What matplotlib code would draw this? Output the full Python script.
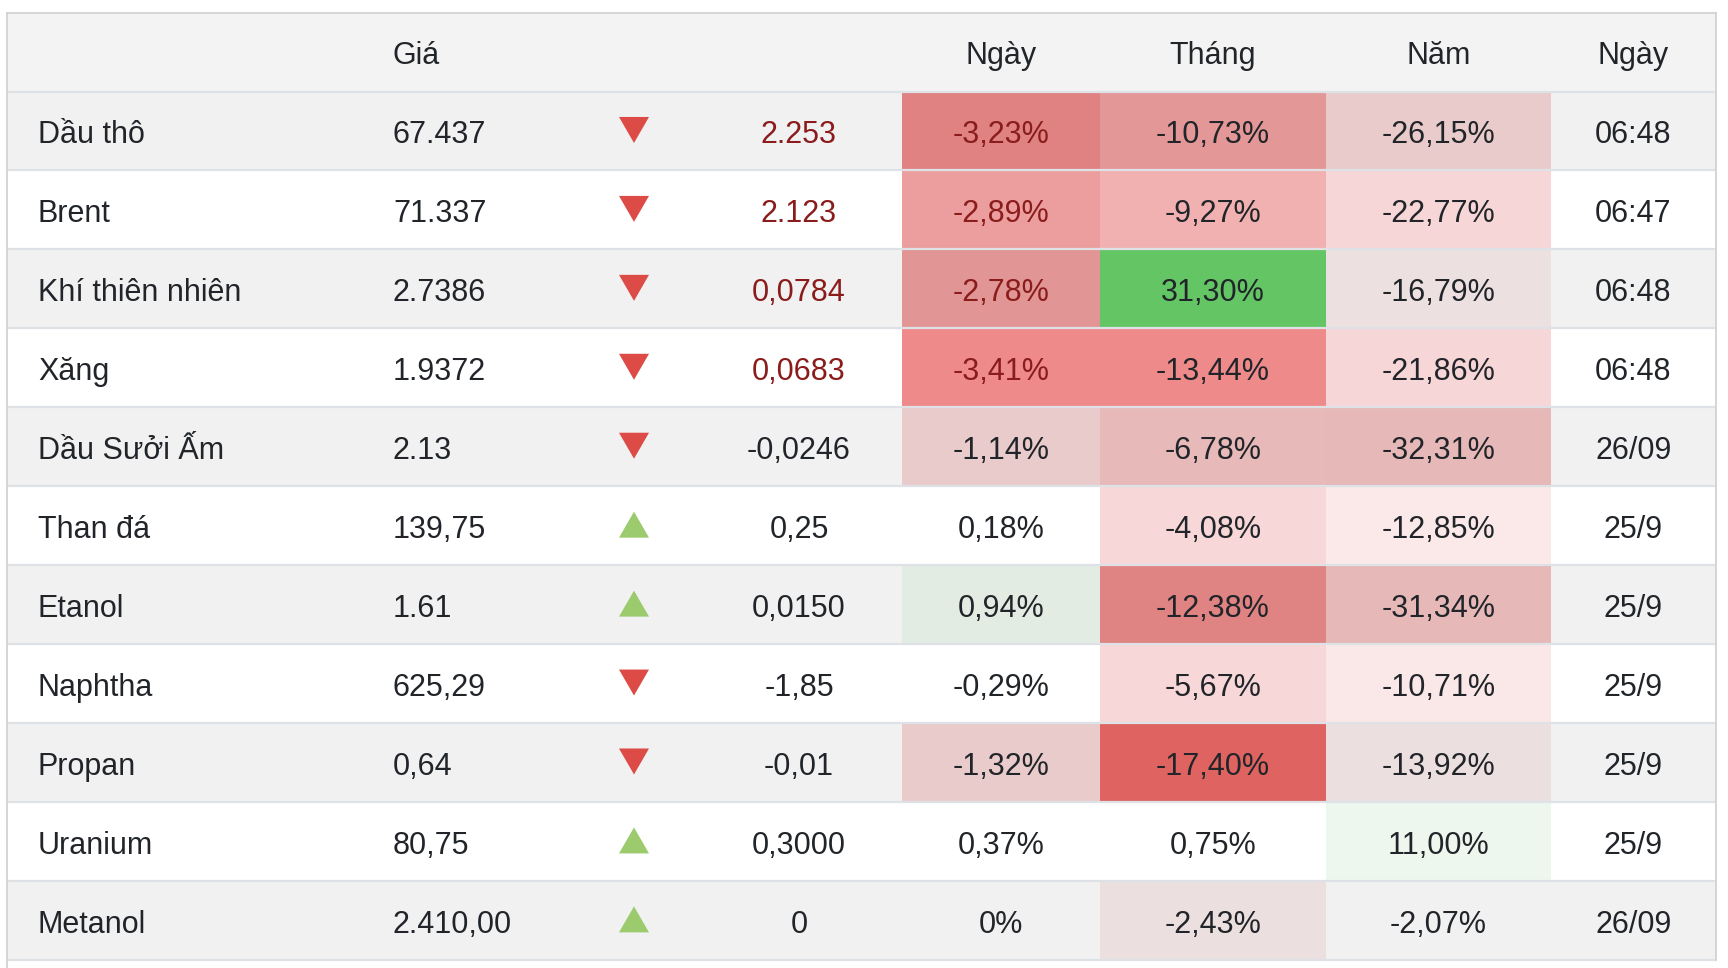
import matplotlib.pyplot as plt
from matplotlib.patches import Rectangle, Polygon

# --- table data ---
names = ["Dầu thô", "Brent", "Khí thiên nhiên", "Xăng", "Dầu Sưởi Ấm", "Than đá",
         "Etanol", "Naphtha", "Propan", "Uranium", "Metanol"]
prices = ["67.437", "71.337", "2.7386", "1.9372", "2.13", "139,75",
          "1.61", "625,29", "0,64", "80,75", "2.410,00"]
going_up = [False, False, False, False, False, True, True, False, False, True, True]
changes = ["2.253", "2.123", "0,0784", "0,0683", "-0,0246", "0,25",
           "0,0150", "-1,85", "-0,01", "0,3000", "0"]
day_pct = ["-3,23%", "-2,89%", "-2,78%", "-3,41%", "-1,14%", "0,18%",
           "0,94%", "-0,29%", "-1,32%", "0,37%", "0%"]
month_pct = ["-10,73%", "-9,27%", "31,30%", "-13,44%", "-6,78%", "-4,08%",
             "-12,38%", "-5,67%", "-17,40%", "0,75%", "-2,43%"]
year_pct = ["-26,15%", "-22,77%", "-16,79%", "-21,86%", "-32,31%", "-12,85%",
            "-31,34%", "-10,71%", "-13,92%", "11,00%", "-2,07%"]
times = ["06:48", "06:47", "06:48", "06:48", "26/09", "25/9",
         "25/9", "25/9", "25/9", "25/9", "26/09"]
red_text = [True, True, True, True, False, False, False, False, False, False, False]

# heatmap cell colours (None = plain row background)
day_colors = ["#e08282", "#ec9e9e", "#e19595", "#ef8a8a", "#eacbcc", None,
              "#e2ece3", None, "#eacbcc", None, None]
month_colors = ["#e49797", "#f1b1b1", "#64c564", "#ef8a8a", "#e7b9b9", "#f7d7d8",
                "#e08383", "#f7d7d8", "#df6461", None, "#ecdfdf"]
year_colors = ["#eacbcc", "#f7d6d7", "#ede0e0", "#f7d6d7", "#e6b8b8", "#fbe9e9",
               "#e6b8b8", "#fae8e8", "#ecdfdf", "#edf7ee", None]

col_headers = ["Ngày", "Tháng", "Năm", "Ngày"]

# --- layout (pixels) ---
W, H = 1728, 968
left, right, top = 7, 1716, 12.7
header_bottom = 91.5
row_h = 78.94
name_x = 38
price_x = 393
arrow_x = 634
change_x = 799
col_edges = [902, 1100, 1326, 1551, 1716]   # Ngày | Tháng | Năm | time
FS = 22
DARK = "#212529"
DARKRED = "#8a1c1c"

plt.rcParams['font.family'] = ['Liberation Sans', 'DejaVu Sans']

fig = plt.figure(figsize=(W / 100, H / 100), dpi=100)
ax = fig.add_axes([0, 0, 1, 1])
ax.set_xlim(0, W)
ax.set_ylim(H, 0)
ax.axis('off')

# header
ax.add_patch(Rectangle((left, top), right - left, header_bottom - top,
                       facecolor="#f3f3f3", edgecolor="none"))
hb = (top + header_bottom) / 2 + 11.5
ax.text(price_x, hb, "Giá", fontsize=FS, color=DARK, ha='left', va='baseline')
for i, lab in enumerate(col_headers):
    cx = (col_edges[i] + col_edges[i + 1]) / 2
    ax.text(cx, hb, lab, fontsize=FS, color=DARK, ha='center', va='baseline')

for r in range(len(names)):
    y0 = header_bottom + r * row_h
    yc = y0 + row_h / 2
    yb = yc + 12.5
    bg = "#f1f1f1" if r % 2 == 0 else "white"
    ax.add_patch(Rectangle((left, y0), right - left, row_h, facecolor=bg, edgecolor="none"))

    for ci, cols in enumerate([day_colors, month_colors, year_colors]):
        c = cols[r]
        if c is not None:
            ax.add_patch(Rectangle((col_edges[ci], y0), col_edges[ci + 1] - col_edges[ci], row_h,
                                   facecolor=c, edgecolor="none"))

    ax.text(name_x, yb, names[r], fontsize=FS, color=DARK, ha='left', va='baseline')
    ax.text(price_x, yb, prices[r], fontsize=FS, color=DARK, ha='left', va='baseline')

    # arrow
    tc = yc - 1
    if going_up[r]:
        tri = [(arrow_x - 15, tc + 13), (arrow_x + 15, tc + 13), (arrow_x, tc - 13)]
        ax.add_patch(Polygon(tri, closed=True, facecolor="#9bcb6c", edgecolor="none"))
    else:
        tri = [(arrow_x - 15, tc - 13), (arrow_x + 15, tc - 13), (arrow_x, tc + 13)]
        ax.add_patch(Polygon(tri, closed=True, facecolor="#dc4b45", edgecolor="none"))

    ax.text(change_x, yb, changes[r], fontsize=FS, color=DARKRED if red_text[r] else DARK,
            ha='center', va='baseline')
    vals = [day_pct[r], month_pct[r], year_pct[r], times[r]]
    for ci, v in enumerate(vals):
        cx = (col_edges[ci] + col_edges[ci + 1]) / 2
        col = DARKRED if (ci == 0 and red_text[r]) else DARK
        ax.text(cx, yb, v, fontsize=FS, color=col, ha='center', va='baseline')

# row separators
for r in range(len(names) + 1):
    y = header_bottom + r * row_h
    ax.plot([left, right], [y, y], color="#dee2e6", lw=1.6, solid_capstyle='butt')

# outer border
ax.plot([left, right], [top, top], color="#d2d2d2", lw=1.3)
ax.plot([left, left], [top, H], color="#d2d2d2", lw=1.3)
ax.plot([right, right], [top, header_bottom + len(names) * row_h], color="#d2d2d2", lw=1.3)

fig.savefig("out.png", dpi=100, facecolor="white")
